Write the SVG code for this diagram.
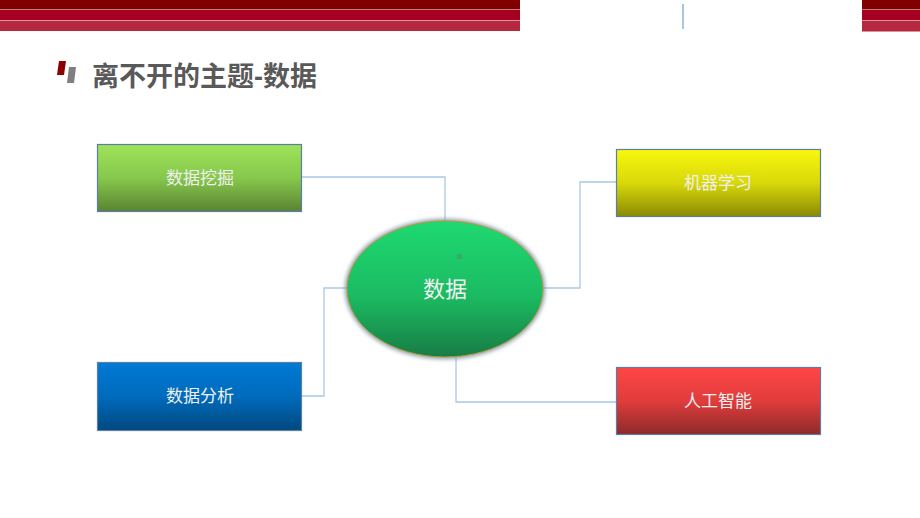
<svg xmlns="http://www.w3.org/2000/svg" width="920" height="518" viewBox="0 0 920 518">
<style>
.lbl{font-family:"Liberation Sans","Noto Sans CJK SC",sans-serif;font-size:17px;fill:#f0f0f0;text-anchor:middle;dominant-baseline:central}
.box{stroke:#5b7ea6;stroke-width:1.2}
.conn{fill:none;stroke:#a9c8e9;stroke-width:1.3}
</style>
<defs>
<linearGradient id="gGreen" x1="0" y1="0" x2="0" y2="1"><stop offset="0" stop-color="#9fe35a"/><stop offset="0.5" stop-color="#86c84c"/><stop offset="1" stop-color="#5a8332"/></linearGradient>
<linearGradient id="gBlue" x1="0" y1="0" x2="0" y2="1"><stop offset="0" stop-color="#007ad4"/><stop offset="0.5" stop-color="#006bbc"/><stop offset="1" stop-color="#00487f"/></linearGradient>
<linearGradient id="gYellow" x1="0" y1="0" x2="0" y2="1"><stop offset="0" stop-color="#f8f80e"/><stop offset="0.5" stop-color="#d8d80a"/><stop offset="1" stop-color="#8a8a03"/></linearGradient>
<linearGradient id="gRed" x1="0" y1="0" x2="0" y2="1"><stop offset="0" stop-color="#ff4646"/><stop offset="0.5" stop-color="#e03c3c"/><stop offset="1" stop-color="#8c2a2a"/></linearGradient>
<linearGradient id="gEll" x1="0" y1="0" x2="0" y2="1"><stop offset="0" stop-color="#1ed970"/><stop offset="0.55" stop-color="#1bbb62"/><stop offset="1" stop-color="#177d45"/></linearGradient>
<filter id="sh" x="-20%" y="-20%" width="140%" height="140%"><feGaussianBlur stdDeviation="2"/></filter>
</defs>
<g id="header">
<rect x="0" y="0" width="520" height="9.5" fill="#800000"/>
<rect x="0" y="10" width="520" height="10" fill="#a50021"/>
<rect x="0" y="20.5" width="520" height="10.5" fill="#b5283f"/>
<rect x="862" y="0" width="58" height="9.5" fill="#800000"/>
<rect x="862" y="10" width="58" height="10" fill="#a50021"/>
<rect x="862" y="20.5" width="58" height="11" fill="#b5283f"/>
<line x1="683" y1="4" x2="683" y2="29" stroke="#8fb0d8" stroke-width="1.5"/>
</g>
<g id="title">
<polygon points="59,61 66,61 64,75 57,75" fill="#8b0000"/>
<polygon points="69,67 76,67 74,83 67,83" fill="#7f7f7f"/>
<text x="92" y="86" font-family="Liberation Sans,'Noto Sans CJK SC',sans-serif" font-size="27" font-weight="bold" fill="#595959">离不开的主题-数据</text>
</g>
<g id="connectors">
<polyline class="conn" points="302,177 445,177 445,221"/>
<polyline class="conn" points="347,288 324,288 324,396 302,396"/>
<polyline class="conn" points="543,288 580,288 580,182 616,182"/>
<polyline class="conn" points="456,357 456,402 616,402"/>
</g>
<g id="n-center">
<ellipse cx="445" cy="289" rx="100" ry="70" fill="#8a9aa8" filter="url(#sh)"/>
<ellipse cx="445" cy="289" rx="98" ry="68" fill="url(#gEll)" stroke="#b89a3a" stroke-width="1"/>
<rect x="457" y="254" width="5" height="5" fill="#3aa86a"/>
<text x="445" y="289" class="lbl" style="font-size:22px">数据</text>
</g>
<g id="n-mining">
<rect class="box" x="97.5" y="144.5" width="204" height="67" fill="url(#gGreen)"/>
<text x="200" y="178" class="lbl">数据挖掘</text>
</g>
<g id="n-analysis">
<rect class="box" x="97.5" y="362.5" width="204" height="68" fill="url(#gBlue)"/>
<text x="200" y="396" class="lbl">数据分析</text>
</g>
<g id="n-ml">
<rect class="box" x="616.5" y="149.5" width="204" height="67" fill="url(#gYellow)"/>
<text x="718" y="183" class="lbl">机器学习</text>
</g>
<g id="n-ai">
<rect class="box" x="616.5" y="367.5" width="204" height="67" fill="url(#gRed)"/>
<text x="718" y="401" class="lbl">人工智能</text>
</g>
</svg>
